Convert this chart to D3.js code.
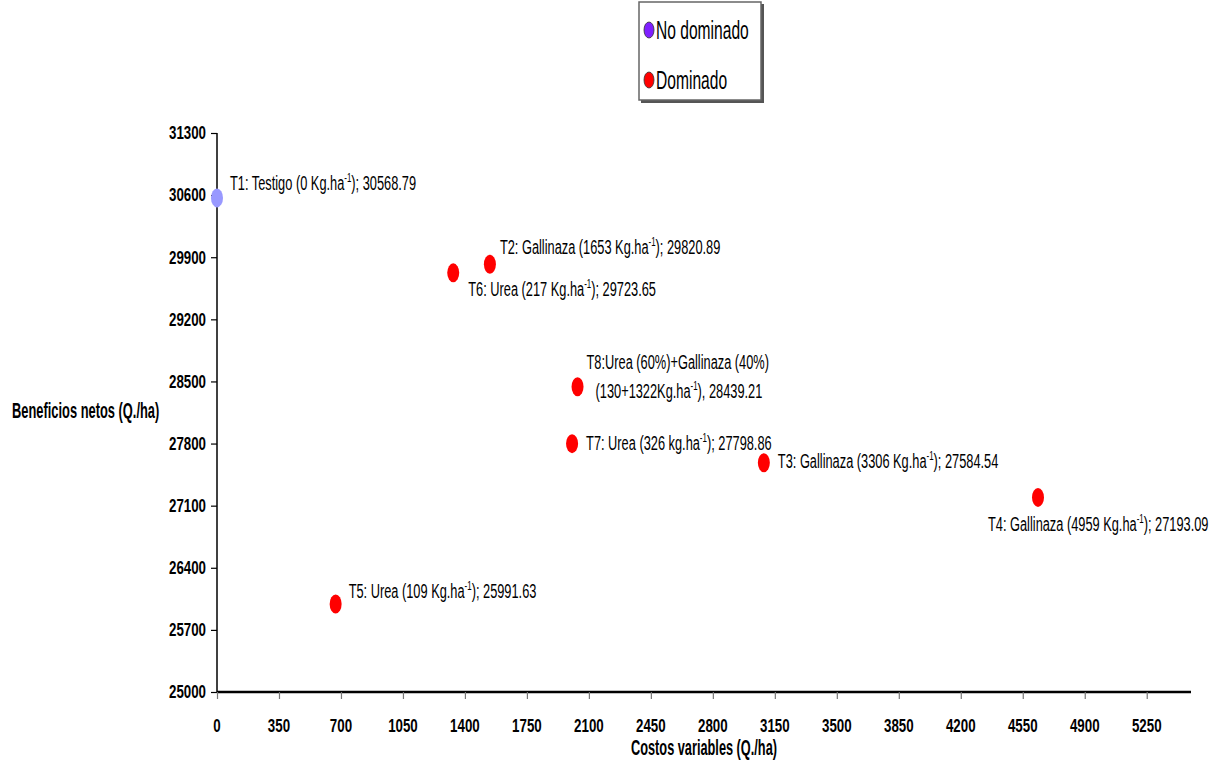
<!DOCTYPE html>
<html>
<head>
<meta charset="utf-8">
<script src="https://cdn.jsdelivr.net/npm/d3@7"></script>
<style>
  html, body { margin: 0; padding: 0; background: #fff; }
  svg { display: block; font-family: "Liberation Sans", Arial, sans-serif; }
</style>
</head>
<body>
<svg id="chart" width="1220" height="765"></svg>
<script>
// ---------------- DATA ----------------
const treatments = ["T1", "T2", "T3", "T4", "T5", "T6", "T7", "T8"];
const costs = [0, 1541, 3088, 4636, 670, 1334, 2005, 2036];           // Costos variables (Q./ha)
const benefits = [30568.79, 29820.89, 27584.54, 27193.09, 25991.63, 29723.65, 27798.86, 28439.21]; // Beneficios netos
const status = ["No dominado", "Dominado", "Dominado", "Dominado", "Dominado", "Dominado", "Dominado", "Dominado"];
// label parts: [text before superscript, superscript, text after]
const labelLines = [
  [["T1: Testigo (0 Kg.ha", "-1", "); 30568.79"]],
  [["T2: Gallinaza (1653 Kg.ha", "-1", "); 29820.89"]],
  [["T3: Gallinaza (3306 Kg.ha", "-1", "); 27584.54"]],
  [["T4: Gallinaza (4959 Kg.ha", "-1", "); 27193.09"]],
  [["T5: Urea (109 Kg.ha", "-1", "); 25991.63"]],
  [["T6: Urea (217 Kg.ha", "-1", "); 29723.65"]],
  [["T7: Urea (326 kg.ha", "-1", "); 27798.86"]],
  [["T8:Urea (60%)+Gallinaza (40%)", "", ""], ["(130+1322Kg.ha", "-1", "), 28439.21"]]
];
const xTicks = [0, 350, 700, 1050, 1400, 1750, 2100, 2450, 2800, 3150, 3500, 3850, 4200, 4550, 4900, 5250];
const yTicks = [25000, 25700, 26400, 27100, 27800, 28500, 29200, 29900, 30600, 31300];
const legendItems = ["No dominado", "Dominado"];
const xTitle = "Costos variables (Q./ha)";
const yTitle = "Beneficios netos (Q./ha)";

// ---------------- LAYOUT / STYLE ----------------
const svg = d3.select("#chart");
const x = d3.scaleLinear().domain([0, 5500]).range([217, 1191]);
const y = d3.scaleLinear().domain([25000, 31300]).range([692, 133]);
const dotColor = { "No dominado": "#9999FF", "Dominado": "#FF0000" };
const legendColor = { "No dominado": "#7F1FFF", "Dominado": "#FF0000" };

// label offsets relative to the point (dx, dy of text centre) per line
const labelOffsets = [
  [[13, -15]],
  [[10, -18]],
  [[14, -2]],
  [[-50, 26]],
  [[13, -13]],
  [[15, 16]],
  [[14, -1]],
  [[9, -25], [18, 4]]
];

function ctext(parent, px, py, fs, weight, anchor, sx) {
  return parent.append("text")
    .attr("transform", `translate(${px},${py + fs * 0.35}) scale(${sx},1)`)
    .attr("font-size", fs)
    .attr("font-weight", weight)
    .attr("text-anchor", anchor)
    .attr("fill", "#000");
}

// ---------------- AXES ----------------
const yAxis = d3.axisLeft(y).tickValues(yTicks).tickSize(6).tickFormat("");
const gy = svg.append("g").attr("transform", "translate(217,0)").call(yAxis);
gy.select(".domain").attr("stroke", "#000").attr("stroke-width", 1.5).attr("d", `M0,${y(31300)}V${y(25000)}`);
gy.selectAll(".tick line").attr("stroke", "#000").attr("stroke-width", 1.2);

const xAxis = d3.axisBottom(x).tickValues(xTicks).tickSize(7).tickFormat("");
const gx = svg.append("g").attr("transform", `translate(0,${y(25000)})`).call(xAxis);
gx.select(".domain").attr("stroke", "#000").attr("stroke-width", 2.5).attr("d", `M${x(0)},0H${x(5500)}`);
gx.selectAll(".tick line").attr("stroke", "#777").attr("stroke-width", 1.2);

// tick labels
yTicks.forEach(v => {
  ctext(svg, 206, y(v), 18, "bold", "end", 0.74).text(v);
});
xTicks.forEach(v => {
  ctext(svg, x(v), 726, 18, "bold", "middle", 0.74).text(v);
});

// titles
ctext(svg, 12, 410, 22, "bold", "start", 0.585).text(yTitle);
ctext(svg, 704, 747, 22, "bold", "middle", 0.58).text(xTitle);

// ---------------- POINTS ----------------
const pts = treatments.map((t, i) => ({ t, c: costs[i], b: benefits[i], s: status[i], lines: labelLines[i], off: labelOffsets[i] }));

svg.append("g").selectAll("ellipse").data(pts).join("ellipse")
  .attr("cx", d => x(d.c))
  .attr("cy", d => y(d.b))
  .attr("rx", 6)
  .attr("ry", 9.5)
  .attr("fill", d => dotColor[d.s]);

pts.forEach(d => {
  d.lines.forEach((ln, j) => {
    const [dx, dy] = d.off[j];
    const t = ctext(svg, x(d.c) + dx, y(d.b) + dy, 21, "normal", "start", 0.61);
    t.append("tspan").text(ln[0]);
    if (ln[1]) {
      t.append("tspan").attr("font-size", 13).attr("dy", -8).text(ln[1]);
      t.append("tspan").attr("dy", 8).text(ln[2]);
    }
  });
});

// ---------------- LEGEND ----------------
const lg = svg.append("g");
lg.append("rect").attr("x", 641).attr("y", 4).attr("width", 123).attr("height", 99).attr("fill", "#555");
lg.append("rect").attr("x", 639).attr("y", 2).attr("width", 122).attr("height", 98)
  .attr("fill", "#fff").attr("stroke", "#666").attr("stroke-width", 1.5);
legendItems.forEach((name, i) => {
  const cy = 30 + i * 50;
  lg.append("ellipse").attr("cx", 649).attr("cy", cy).attr("rx", 5).attr("ry", 8)
    .attr("fill", legendColor[name]).attr("stroke", "#333").attr("stroke-width", 0.8);
  ctext(lg, 656, cy, 26, "normal", "start", 0.6).text(name);
});
</script>
</body>
</html>
